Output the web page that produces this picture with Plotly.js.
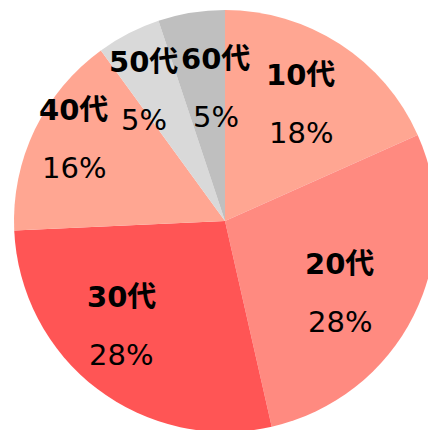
<!DOCTYPE html>
<html>
<head>
<meta charset="utf-8">
<script src="https://cdn.plot.ly/plotly-3.0.1.min.js"></script>
<style>
html,body{margin:0;padding:0;overflow:hidden;background:#fff;width:428px;height:430px;}
#chart{width:450px;height:432px;}
</style>
</head>
<body>
<div id="chart"></div>
<script>
// Data
var categories = ["10代", "20代", "30代", "40代", "50代", "60代"];
var values = [18.3, 28.1, 27.8, 15.7, 4.9, 5.1];
var colors = ["#FFA692", "#FF8A80", "#FF5555", "#FFA692", "#D9D9D9", "#BFBFBF"];

// Label placement tweaks (layout only): [radius fraction, angle nudge in degrees]
var labelPlace = [[0.66, 0], [0.64, 5.4], [0.70, 7.2], [0.815, 2.7], [0.725, -4.8], [0.632, 5.2]];

var W = 450, H = 432, T = 10, B = 0;
var plotH = H - T - B;
var R = Math.min(W, plotH) / 2;
var cx = W / 2, cy = T + plotH / 2;

var total = values.reduce(function(a, b){ return a + b; }, 0);
var annotations = [];
var cum = 0;
var fontFam = "DejaVu Sans, 'Noto Sans CJK JP', sans-serif";
var fs = 29;
for (var i = 0; i < values.length; i++) {
  var mid = (cum + values[i] / 2) / total * 360 + labelPlace[i][1];
  cum += values[i];
  var rad = mid * Math.PI / 180;
  var d = R * labelPlace[i][0];
  var px = cx + d * Math.sin(rad);
  var py = cy - d * Math.cos(rad);
  var pct = Math.round(values[i] / total * 100) + "%";
  var toPaper = function(x, y){ return [x / W, 1 - (y - T) / plotH]; };
  var p1 = toPaper(px, py - 29), p2 = toPaper(px, py + 29);
  annotations.push({xref: "paper", yref: "paper", x: p1[0], y: p1[1], xanchor: "center", yanchor: "middle",
    text: "<b>" + categories[i] + "</b>", showarrow: false, font: {family: fontFam, size: fs, color: "#000"}});
  annotations.push({xref: "paper", yref: "paper", x: p2[0], y: p2[1], xanchor: "center", yanchor: "middle",
    text: pct, showarrow: false, font: {family: fontFam, size: fs, color: "#000"}});
}

var trace = {
  type: "pie",
  labels: categories,
  values: values,
  sort: false,
  direction: "clockwise",
  rotation: 0,
  marker: {colors: colors, line: {width: 0}},
  textinfo: "none",
  hoverinfo: "skip",
  showlegend: false
};

var layout = {
  width: W, height: H,
  margin: {l: 0, r: 0, t: T, b: B, pad: 0},
  paper_bgcolor: "#fff",
  showlegend: false,
  annotations: annotations
};

Plotly.newPlot("chart", [trace], layout, {displayModeBar: false, staticPlot: true});
</script>
</body>
</html>
